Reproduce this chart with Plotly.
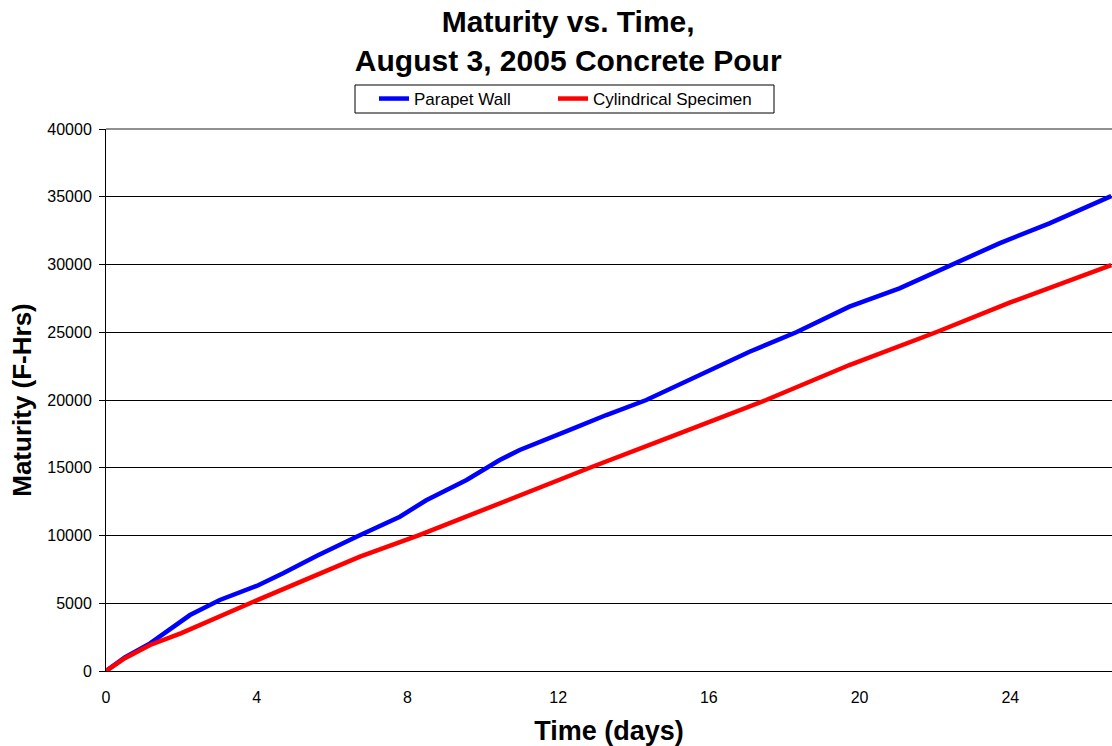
import plotly.graph_objects as go

# Parapet Wall
wall_days = [0, 0.5, 1.17, 2.23, 3.02, 4.0, 4.70, 5.6, 6.65, 7.80, 8.5, 9.57, 10.45, 10.98,
             12.31, 13.28, 14.34, 15.31, 17.08, 18.32, 19.73, 21.06, 22.47, 23.71, 25.04, 26.68]
wall_maturity = [0, 1000, 2040, 4130, 5240, 6280, 7210, 8500, 9910, 11390, 12600, 14100, 15570,
                 16310, 17790, 18890, 20000, 21230, 23560, 25000, 26890, 28240, 30000, 31560,
                 33040, 35050]

# Cylindrical Specimen
cyl_days = [0, 0.5, 1.17, 2.0, 3.82, 6.74, 8.33, 10.45, 12.84, 15.0, 17.52, 19.73, 22.03, 24.0, 26.68]
cyl_maturity = [0, 950, 1920, 2800, 5000, 8440, 10040, 12380, 15000, 17300, 20000, 22580, 25000,
                27200, 29960]

x_ticks = [0, 4, 8, 12, 16, 20, 24]
y_ticks = [0, 5000, 10000, 15000, 20000, 25000, 30000, 35000, 40000]
y_tick_labels = [str(v) for v in y_ticks]

FONT = "Liberation Sans, Arial, sans-serif"

W, H = 1112, 746
ML, MR, MT, MB = 106, 0, 129, 75
PW, PH = W - ML - MR, H - MT - MB


def px_x(p):
    return (p - ML) / PW


def px_y(p):
    return (H - MB - p) / PH


fig = go.Figure()
fig.add_trace(go.Scatter(x=wall_days, y=wall_maturity, mode="lines", name="Parapet Wall",
                         line=dict(color="#0000FF", width=4.5), legend="legend"))
fig.add_trace(go.Scatter(x=cyl_days, y=cyl_maturity, mode="lines", name="Cylindrical Specimen",
                         line=dict(color="#FF0000", width=4.5), legend="legend2"))

legend_common = dict(orientation="h", xanchor="left", y=px_y(99), yanchor="middle",
                     borderwidth=0, bgcolor="rgba(0,0,0,0)",
                     font=dict(size=17, family=FONT))

fig.update_layout(
    width=W, height=H,
    margin=dict(l=ML, r=MR, t=MT, b=MB),
    paper_bgcolor="white", plot_bgcolor="white",
    font=dict(family=FONT, color="black", size=16),
    title=dict(text="<b>Maturity vs. Time,<br>August 3, 2005 Concrete Pour</b>",
               x=0.511, xanchor="center", y=1 - 31.5 / H, yanchor="middle", yref="container",
               font=dict(size=30, family=FONT, color="black")),
    showlegend=True,
    legend=dict(x=px_x(374), **legend_common),
    legend2=dict(x=px_x(553), **legend_common),
    xaxis=dict(range=[0, 26.7], tickvals=x_ticks, showgrid=False, zeroline=False,
               showline=True, linecolor="black", linewidth=1, ticks="",
               ticklabelstandoff=12,
               tickfont=dict(size=16), title=dict(text="<b>Time (days)</b>", standoff=16,
                                                  font=dict(size=27))),
    yaxis=dict(range=[0, 40000], tickvals=y_ticks, ticktext=y_tick_labels,
               showgrid=True, gridcolor="black", gridwidth=1,
               zeroline=False, showline=True, linecolor="black", linewidth=1,
               ticks="outside", ticklen=6, tickcolor="black", ticklabelstandoff=4,
               tickfont=dict(size=16),
               title=dict(text="<b>Maturity (F-Hrs)</b>", standoff=8, font=dict(size=26))),
    shapes=[
        dict(type="line", xref="paper", yref="paper", x0=0, x1=1, y0=1, y1=1,
             line=dict(color="#909090", width=2)),
        dict(type="rect", xref="paper", yref="paper", x0=px_x(355), x1=px_x(774),
             y0=px_y(113), y1=px_y(85), line=dict(color="black", width=1),
             fillcolor="white", layer="below"),
    ],
)

fig.write_html("out.html")
